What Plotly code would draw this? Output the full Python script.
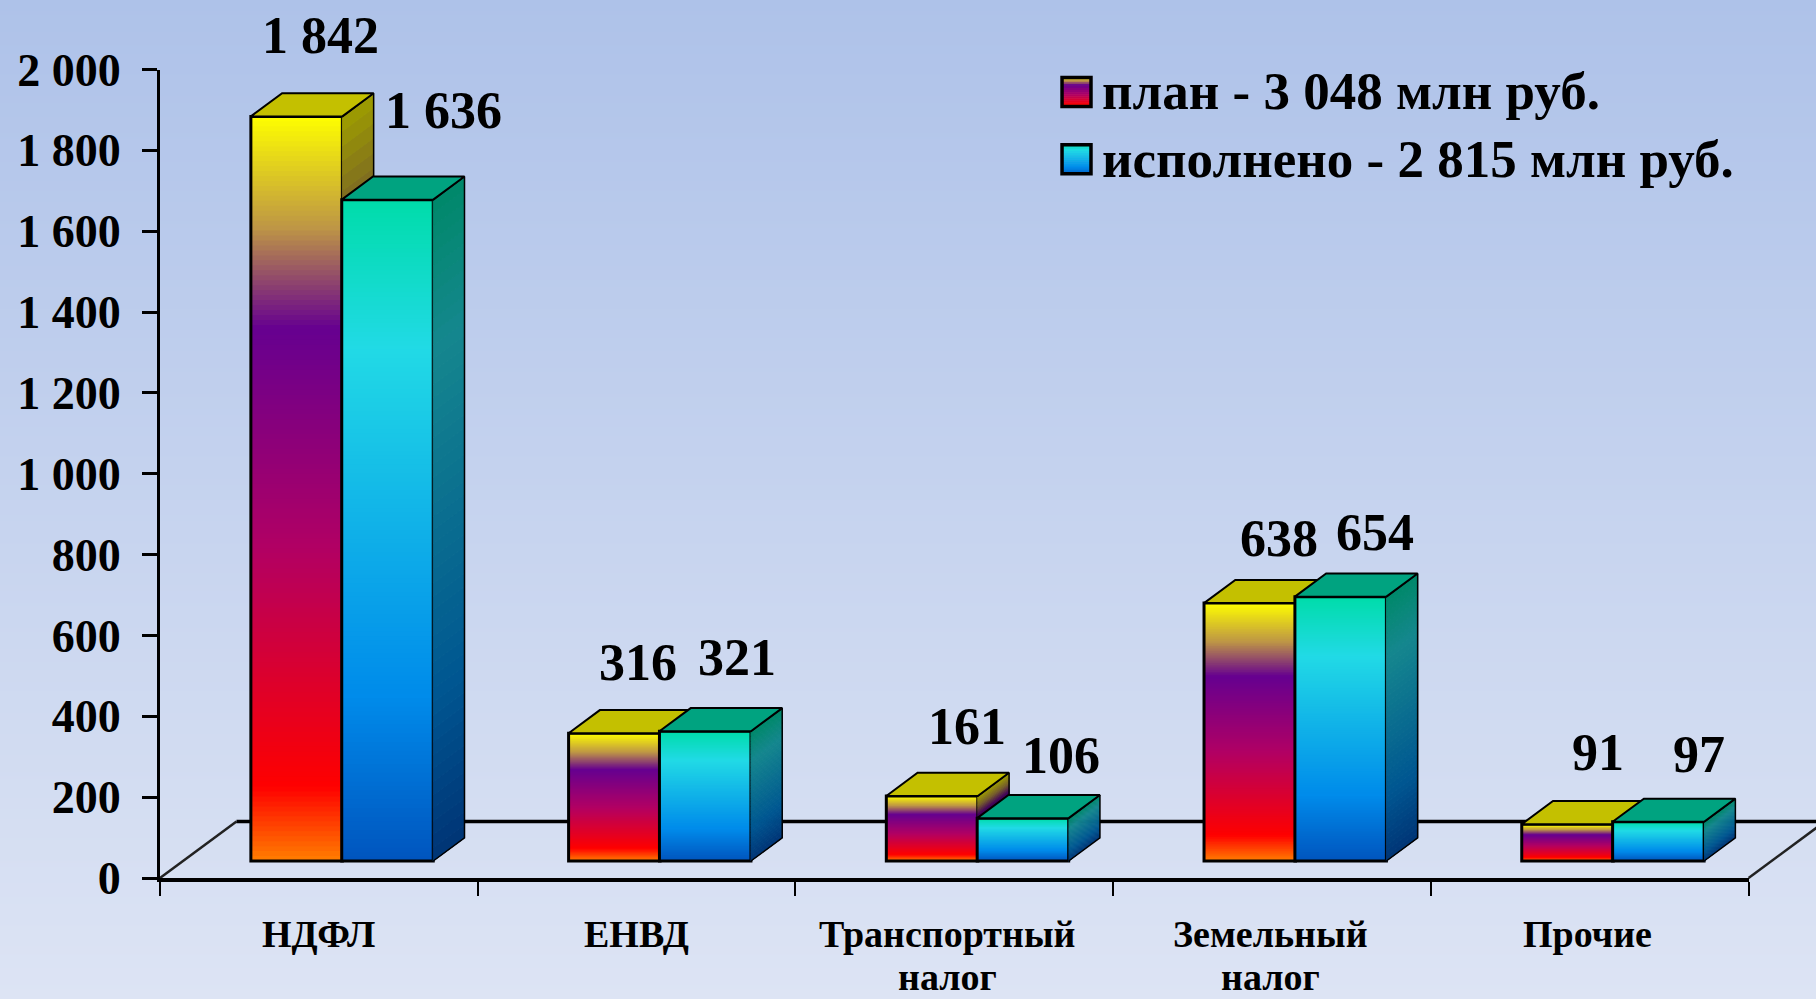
import plotly.graph_objects as go

# ---- data ----
categories = [["НДФЛ"], ["ЕНВД"], ["Транспортный", "налог"], ["Земельный", "налог"], ["Прочие"]]
plan_values = [1842, 316, 161, 638, 91]
fact_values = [1636, 321, 106, 654, 97]
y_ticks = [0, 200, 400, 600, 800, 1000, 1200, 1400, 1600, 1800, 2000]
y_tick_labels = ["0", "200", "400", "600", "800", "1 000", "1 200", "1 400", "1 600", "1 800", "2 000"]
plan_labels = ["1 842", "316", "161", "638", "91"]
fact_labels = ["1 636", "321", "106", "654", "97"]
legend_labels = ["план - 3 048 млн руб.", "исполнено - 2 815 млн руб."]

# ---- geometry / style ----
W, H = 1816, 999
X0, X1 = 160, 1748.6
Y_ZERO, Y_TOP = 878, 69.5
UNIT_X = (X1 - X0) / 5
UNIT_Y = (Y_ZERO - Y_TOP) / 2000
S = 1816 / 1568
FONT = "Liberation Serif"

BAR_W = 0.288
PLAN_C = 0.43
FACT_C = 0.716
BASE = 42
DX, DY = 0.0984, 57.3
FLOOR_DX, FLOOR_DY = 0.2407, 140
N_FRONT, N_SIDE = 150, 50

plan_stops = [(0, (255, 127, 0)), (0.10, (255, 0, 0)), (0.42, (178, 0, 100)), (0.715, (102, 0, 144)),
              (0.85, (190, 150, 70)), (1, (255, 255, 0))]
fact_stops = [(0, (0, 85, 190)), (0.25, (0, 140, 235)), (0.775, (34, 218, 230)), (1, (0, 221, 170))]
SIDE_K = 0.62
PLAN_TOP = "#C4C000"
FACT_TOP = "#00A380"
# label offsets from the bar's rear top edge, reference-view pixels
plan_lbl_dx = [21, 20.5, 30, 25.5, 26.5]
fact_lbl_dx = [48.5, 27.5, 32.5, 30, 35.5]
plan_lbl_dy = [50, 41, 40, 36, 42]
fact_lbl_dy = [57, 44, 34, 35, 38]
cat_dx = [0, 0, -6, -1.5, -2]
CAT_LINE_Y = [934, 977]


def grad(stops, t, k=1.0):
    for (a, ca), (b, cb) in zip(stops, stops[1:]):
        if t <= b:
            f = (t - a) / (b - a)
            c = [(ca[i] + (cb[i] - ca[i]) * f) * k for i in range(3)]
            return "rgb(%d,%d,%d)" % tuple(c)
    return "rgb(%d,%d,%d)" % tuple(v * k for v in stops[-1][1])


fig = go.Figure()

# full-canvas axes sharing the chart's scale
full_x = [-X0 / UNIT_X, (W - X0) / UNIT_X]
full_y = [-(H - Y_ZERO) / UNIT_Y, Y_ZERO / UNIT_Y]

# background gradient
fig.add_trace(go.Heatmap(z=[[0, 0], [1, 1]], x=full_x, y=full_y, xaxis="x", yaxis="y", zsmooth="best",
                         showscale=False, hoverinfo="skip", zmin=0, zmax=1,
                         colorscale=[[0, "#DDE4F4"], [1, "#AEC2E9"]]))

# floor outline
fig.add_trace(go.Scatter(x=[0, FLOOR_DX, None, 5, 5 + FLOOR_DX], y=[0, FLOOR_DY, None, 0, FLOOR_DY], mode="lines",
                         xaxis="x", yaxis="y", line=dict(color="#222222", width=2.5),
                         hoverinfo="skip", showlegend=False))
fig.add_trace(go.Scatter(x=[FLOOR_DX, full_x[1]], y=[FLOOR_DY, FLOOR_DY], mode="lines",
                         xaxis="x", yaxis="y", line=dict(color="black", width=3.5),
                         hoverinfo="skip", showlegend=False))


def add_series(axis_x, axis_y, centers, values, stops, top_color, name):
    # gradient front face: nested bars, each painted over the upper part of the previous one
    for i in range(N_FRONT):
        t = (i + 0.5) / N_FRONT
        fig.add_trace(go.Bar(x=centers, y=[v * (N_FRONT - i) / N_FRONT for v in values],
                             base=[BASE + v * i / N_FRONT for v in values],
                             width=BAR_W, xaxis=axis_x, yaxis=axis_y, showlegend=False, hoverinfo="skip",
                             marker=dict(color=grad(stops, t), line=dict(width=0))))
    # front outline
    fig.add_trace(go.Bar(x=centers, y=values, base=[BASE] * 5, width=BAR_W, xaxis=axis_x, yaxis=axis_y,
                         name=name, showlegend=False,
                         marker=dict(color="rgba(0,0,0,0)", line=dict(color="black", width=3))))
    # gradient side face
    for i in range(N_SIDE):
        t = (i + 0.5) / N_SIDE
        xs, ys = [], []
        for c, v in zip(centers, values):
            r = c + BAR_W / 2
            b0 = BASE + v * i / N_SIDE
            b1 = BASE + v * (i + 1) / N_SIDE
            xs += [r, r + DX, r + DX, r, r, None]
            ys += [b0, b0 + DY, b1 + DY, b1, b0, None]
        col = grad(stops, t, SIDE_K)
        fig.add_trace(go.Scatter(x=xs, y=ys, mode="lines", fill="toself", fillcolor=col, xaxis=axis_x, yaxis=axis_y,
                                 line=dict(color=col, width=1), hoverinfo="skip", showlegend=False))
    # top face + outlines
    xs, ys, lx, ly = [], [], [], []
    for c, v in zip(centers, values):
        l, r = c - BAR_W / 2, c + BAR_W / 2
        t = BASE + v
        xs += [l, l + DX, r + DX, r, l, None]
        ys += [t, t + DY, t + DY, t, t, None]
        lx += [r, r + DX, r + DX, r, None]
        ly += [BASE, BASE + DY, t + DY, t, None]
    fig.add_trace(go.Scatter(x=lx, y=ly, mode="lines", xaxis=axis_x, yaxis=axis_y,
                             line=dict(color="black", width=1.5), hoverinfo="skip", showlegend=False))
    fig.add_trace(go.Scatter(x=xs, y=ys, mode="lines", fill="toself", fillcolor=top_color, xaxis=axis_x, yaxis=axis_y,
                             line=dict(color="black", width=2), hoverinfo="skip", showlegend=False))


pos = list(range(5))
add_series("x3", "y3", [p + PLAN_C for p in pos], plan_values, plan_stops, PLAN_TOP, "план")
add_series("x4", "y4", [p + FACT_C for p in pos], fact_values, fact_stops, FACT_TOP, "исполнено")

annotations = []
for i in pos:
    for c, v, t, dx, dy in ((PLAN_C, plan_values[i], plan_labels[i], plan_lbl_dx[i], plan_lbl_dy[i]),
                            (FACT_C, fact_values[i], fact_labels[i], fact_lbl_dx[i], fact_lbl_dy[i])):
        annotations.append(dict(x=i + c, y=BASE + v + DY, xref="x2", yref="y2", text="<b>%s</b>" % t,
                                showarrow=False, xshift=dx * S, yshift=dy * S, yanchor="middle",
                                font=dict(family=FONT, size=52, color="black")))
    for line, py in zip(categories[i], CAT_LINE_Y):
        annotations.append(dict(x=i + 0.5, y=0, xref="x2", yref="y2", text="<b>%s</b>" % line, showarrow=False,
                                xshift=cat_dx[i] * S, yshift=-(py - Y_ZERO), yanchor="middle",
                                font=dict(family=FONT, size=38, color="black")))

# legend text and swatches
shapes = []
for row, (label, stops) in enumerate(zip(legend_labels, (plan_stops, fact_stops))):
    yc = (79 + row * 58) * S
    annotations.append(dict(x=950 * S / W, y=1 - yc / H, xref="paper", yref="paper", xanchor="left", yanchor="middle",
                            text="<b>%s</b>" % label, showarrow=False,
                            font=dict(family=FONT, size=53, color="black")))
    sx0, sx1 = 917 * S / W, 942 * S / W
    sh = 25 * S
    top = yc - 12 * S
    n = 14
    for j in range(n):
        y0 = top + sh * j / n
        y1 = top + sh * (j + 1) / n + 0.5
        shapes.append(dict(type="rect", xref="paper", yref="paper", x0=sx0, x1=sx1, y0=1 - y0 / H, y1=1 - y1 / H,
                           line=dict(width=0), fillcolor=grad(stops, 0.95 - 0.9 * (j + 0.5) / n), layer="above"))
    shapes.append(dict(type="rect", xref="paper", yref="paper", x0=sx0, x1=sx1, y0=1 - top / H, y1=1 - (top + sh) / H,
                       line=dict(width=3.5, color="black"), layer="above"))

xdom = [X0 / W, X1 / W]
ydom = [1 - Y_ZERO / H, 1 - Y_TOP / H]
hidden = dict(visible=False, showgrid=False, zeroline=False, fixedrange=True)

fig.update_layout(
    width=W, height=H, margin=dict(l=0, r=0, t=0, b=0, autoexpand=False), showlegend=False, barmode="overlay",
    paper_bgcolor="#C5D3ED", plot_bgcolor="rgba(0,0,0,0)", hovermode=False,
    font=dict(family=FONT, color="black"),
    xaxis=dict(domain=[0, 1], range=full_x, **hidden),
    yaxis=dict(domain=[0, 1], range=full_y, **hidden),
    xaxis2=dict(domain=xdom, range=[0, 5], anchor="y2", tickmode="array", tickvals=list(range(6)), ticktext=[""] * 6,
                ticks="outside", ticklen=14, tickwidth=2, tickcolor="black", showline=True, linecolor="black",
                linewidth=3.5, showgrid=False, zeroline=False),
    yaxis2=dict(domain=ydom, range=[0, 2000], anchor="x2", tickmode="array", tickvals=y_ticks, ticktext=y_tick_labels,
                ticks="outside", ticklen=15, tickwidth=3, tickcolor="black", showline=True, linecolor="black",
                linewidth=3, showgrid=False, zeroline=False, ticklabelstandoff=12,
                tickfont=dict(family=FONT, size=46, color="black", weight="bold")),
    xaxis3=dict(domain=xdom, range=[0, 5], anchor="y3", **hidden),
    yaxis3=dict(domain=ydom, range=[0, 2000], anchor="x3", **hidden),
    xaxis4=dict(domain=xdom, range=[0, 5], anchor="y4", **hidden),
    yaxis4=dict(domain=ydom, range=[0, 2000], anchor="x4", **hidden),
    annotations=annotations, shapes=shapes,
)

fig.write_html("out.html", config=dict(displayModeBar=False),
               post_script="document.body.style.margin='0';document.body.style.overflow='hidden';")
